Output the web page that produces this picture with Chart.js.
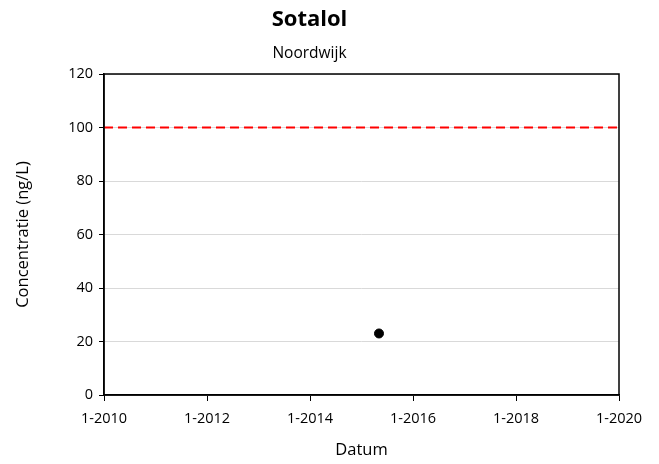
<!DOCTYPE html>
<html><head><meta charset="utf-8">
<script src="https://cdn.jsdelivr.net/npm/chart.js@4"></script>
<style>html,body{margin:0;padding:0;background:#fff}#wrap{width:659px;height:464px}</style>
</head><body><div id="wrap"><canvas id="c" width="659" height="464"></canvas></div>
<script>
const titleText = 'Sotalol';
const subtitleText = 'Noordwijk';
const sampleDates = ['2015-05-05'];
const sampleValues = [23];
const limitValue = 100;
const xTickYears = [2010, 2012, 2014, 2016, 2018, 2020];
const yTicks = [0, 20, 40, 60, 80, 100, 120];

function decYear(s){const d=new Date(s+'T00:00:00Z');const y=d.getUTCFullYear();const a=Date.UTC(y,0,1),b=Date.UTC(y+1,0,1);return y+(d-a)/(b-a);}
const points = sampleDates.map((d,i)=>({x:decYear(d),y:sampleValues[i]}));
const limitLine = [{x:xTickYears[0],y:limitValue},{x:xTickYears[xTickYears.length-1],y:limitValue}];

const boxPlugin = {id:'box',afterDraw(ch){const a=ch.chartArea,c=ch.ctx;c.save();c.strokeStyle='#000';c.lineWidth=1.5;c.strokeRect(a.left,a.top,a.right-a.left,a.bottom-a.top);c.restore();}};
const FONT = "'Open Sans', 'Liberation Sans', sans-serif";
new Chart(document.getElementById('c'),{
  type:'scatter',
  data:{datasets:[
    {label:'Norm',data:limitLine,showLine:true,borderColor:'#ff0000',borderWidth:2,borderDash:[9,5],pointRadius:0,fill:false,order:2},
    {label:'Sotalol',data:points,backgroundColor:'#000',borderColor:'#000',pointRadius:4.5,pointHoverRadius:4.5,order:1}
  ]},
  options:{
    responsive:false,animation:false,
    layout:{padding:{left:0,right:40,top:7,bottom:0}},
    plugins:{
      legend:{display:false},tooltip:{enabled:false},
      title:{display:true,text:titleText,color:'#000',font:{family:FONT,size:22,weight:'bold'},padding:{top:0,bottom:11}},
      subtitle:{display:true,text:subtitleText,color:'#000',font:{family:FONT,size:15.5},padding:{top:0,bottom:11}}
    },
    scales:{
      x:{type:'linear',min:xTickYears[0],max:xTickYears[xTickYears.length-1],
        afterBuildTicks:s=>{s.ticks=xTickYears.map(v=>({value:v}));},
        afterFit:s=>{s.height=69;},
        ticks:{callback:v=>'1-'+v,color:'#000',font:{family:FONT,size:14.5},padding:9,maxRotation:0},
        grid:{display:true,drawOnChartArea:false,drawTicks:true,tickLength:6,tickColor:'#000'},
        border:{display:true,color:'#000',width:1.5},
        title:{display:true,text:'Datum',color:'#000',font:{family:FONT,size:16.5},padding:{top:10}}
      },
      y:{min:0,max:120,
        afterBuildTicks:s=>{s.ticks=yTicks.map(v=>({value:v}));},
        afterFit:s=>{s.width=104;},
        ticks:{color:'#000',font:{family:FONT,size:14.5},padding:6},
        grid:{color:'#d9d9d9',lineWidth:1,drawTicks:true,tickLength:5,tickColor:'#000'},
        border:{display:true,color:'#000',width:1.5},
        title:{display:true,text:'Concentratie (ng/L)',color:'#000',font:{family:FONT,size:16.5},padding:{top:13,bottom:0}}
      }
    }
  },
  plugins:[boxPlugin]
});
</script></body></html>
